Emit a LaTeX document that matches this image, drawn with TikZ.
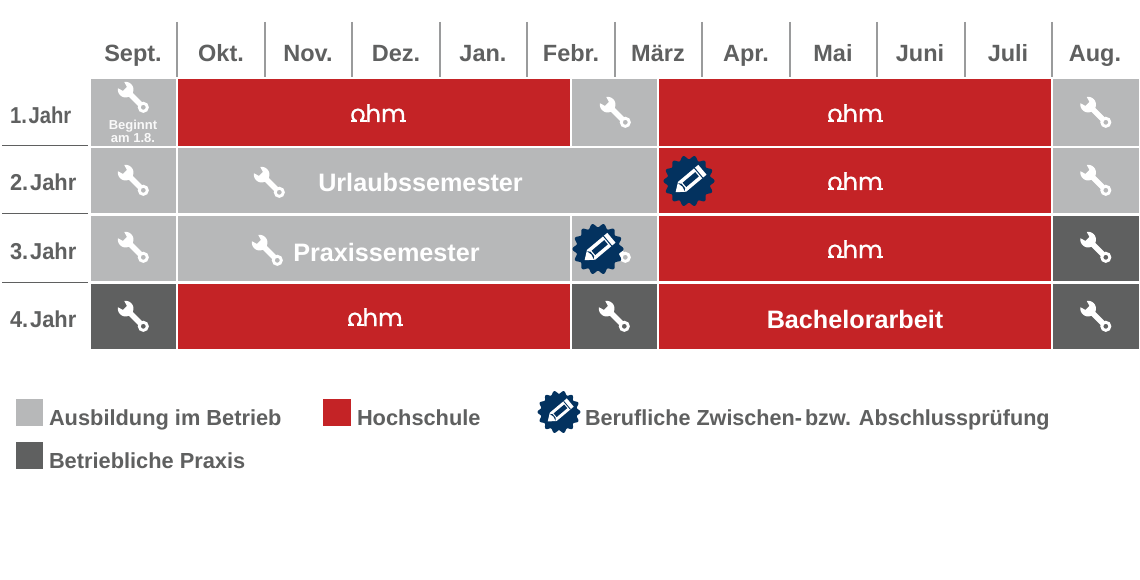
\documentclass[tikz,border=0pt]{standalone}
\usepackage{fontspec}
\setmainfont{Liberation Sans}
\newfontfamily\ohmfont[FakeBold=0.6]{Poppins}
\definecolor{lgrey}{HTML}{B7B8B9}
\definecolor{dgrey}{HTML}{5F6060}
\definecolor{ored}{HTML}{C42326}
\definecolor{navy}{HTML}{03325F}
\definecolor{vline}{HTML}{9A9B9C}
\newcommand{\fsz}[1]{\fontsize{#1}{#1}\selectfont}
\tikzset{
  x=1pt,y=-1pt,
  every node/.style={inner sep=0pt,outer sep=0pt},
  month/.style={anchor=base,text=dgrey,font=\bfseries\fsz{23.5}},
  yearlabel/.style={anchor=base west,text=dgrey,font=\bfseries\fsz{23}},
  inlabel/.style={anchor=base,text=white,font=\bfseries\fsz{25.2}},
  smalllabel/.style={anchor=base,text=white!92!lgrey,font=\bfseries\fsz{13}},
  legendlabel/.style={anchor=base west,text=dgrey,font=\bfseries\fsz{21.8}},
  ohmlabel/.style={anchor=base,text=white,font=\ohmfont\fsz{24}},
  wrench/.pic={
    \begin{scope}[rotate=-45]
      \fill[white] plot[domain=145:-145,samples=31,variable=\t] ({-9+7.8*cos(\t)},{7.8*sin(\t)}) -- (-10,-2.8) -- (-10,2.8) -- cycle;
      \fill[white] (-6,-2.8) rectangle (12,2.8);
      \fill[white,even odd rule] (16,0) circle[radius=5.6] (16,0) circle[radius=2.5];
    \end{scope}
  },
  badge/.pic={
    \fill[navy] plot[domain=0:360,samples=169,variable=\t] (\t:{23.6+1.9*cos(14*\t)}) -- cycle;
    \begin{scope}[rotate=40]
      \fill[white] (-17.5,0) -- (-9,-6.4) -- (17.5,-6.4) -- (17.5,6.4) -- (-9,6.4) -- cycle;
      \fill[navy] (-6,-2.8) rectangle (10.5,2.8);
      \fill[navy] (12,-6.4) rectangle (13,6.4);
      \fill[navy] (-9.8,-5.2) -- (-7.5,-2.8) -- (-7.5,2.8) -- (-9.8,5.2) -- (-8.6,0) -- cycle;
    \end{scope}
  },
  ohmfeet/.pic={
    \fill[ored] (-21.3,-3) rectangle (-18,1);
    \fill[white] (-27.5,-1.9) rectangle (-21.3,0);
    \fill[white] (-18,-1.9) rectangle (-11.5,0);
    \fill[white] (22,-1.9) rectangle (27.5,0);
  }
}
\begin{document}
\begin{tikzpicture}
\useasboundingbox (0,0) rectangle (1140,580);
\fill[white] (0,0) rectangle (1140,580);

% month separators
\foreach \mx in {177,265,352,440,527,615,702,790,877,965,1052}
  \draw[vline,line width=1.1] (\mx,22) -- (\mx,77);
% month names
\node[month] (m1) at (133,62) {Sept.};
\node[month] (m2) at (221,62) {Okt.};
\node[month] (m3) at (308,62) {Nov.};
\node[month] (m4) at (396,62) {Dez.};
\node[month] (m5) at (483,62) {Jan.};
\node[month] (m6) at (571,62) {Febr.};
\node[month] (m7) at (658,62) {März};
\node[month] (m8) at (746,62) {Apr.};
\node[month] (m9) at (833,62) {Mai};
\node[month] (m10) at (920,62) {Juni};
\node[month] (m11) at (1008,62) {Juli};
\node[month] (m12) at (1095,62) {Aug.};

% year labels
\node[yearlabel] (y1) at (10,124) {\scalebox{0.88}[1]{1.\kern2pt Jahr}};
\node[yearlabel] (y2) at (10,191) {\scalebox{0.95}[1]{2.\kern2pt Jahr}};
\node[yearlabel] (y3) at (10,259) {\scalebox{0.95}[1]{3.\kern2pt Jahr}};
\node[yearlabel] (y4) at (10,327) {\scalebox{0.95}[1]{4.\kern2pt Jahr}};
\foreach \ly in {146,214,282}
  \draw[dgrey,line width=1] (2,\ly) -- (88,\ly);

% row 1
\fill[lgrey] (91,79) rectangle (176,146);
\fill[ored] (178,79) rectangle (570,146);
\fill[lgrey] (572,79) rectangle (657,146);
\fill[ored] (659,79) rectangle (1051,146);
\fill[lgrey] (1053,79) rectangle (1139,146);
% row 2
\fill[lgrey] (91,148) rectangle (176,213);
\fill[lgrey] (178,148) rectangle (657,213);
\fill[ored] (659,148) rectangle (1051,213);
\fill[lgrey] (1053,148) rectangle (1139,213);
% row 3
\fill[lgrey] (91,216) rectangle (176,281);
\fill[lgrey] (178,216) rectangle (570,281);
\fill[lgrey] (572,216) rectangle (657,281);
\fill[ored] (659,216) rectangle (1051,281);
\fill[dgrey] (1053,216) rectangle (1139,281);
% row 4
\fill[dgrey] (91,284) rectangle (176,349);
\fill[ored] (178,284) rectangle (570,349);
\fill[dgrey] (572,284) rectangle (657,349);
\fill[ored] (659,284) rectangle (1051,349);
\fill[dgrey] (1053,284) rectangle (1139,349);

% wrenches
\foreach \wx/\wy in {132/96,614/111,1094.5/111,132/179,268/181,1094.5/179,132/246,266/249,614/246,1094.5/246,132/315,613/315,1094.5/315}
  \pic at (\wx,\wy) {wrench};

% cell texts
\node[smalllabel] (bg1) at (133,130) {Beginnt};
\node[smalllabel] (bg2) at (133,143) {am 1.8.};
\node[inlabel] (urlaub) at (420.5,192) {Urlaubssemester};
\node[inlabel] (praxis) at (386.5,261) {Praxissemester};
\node[inlabel] (bach) at (855,328) {Bachelorarbeit};

% ohm logos
\foreach \ox/\oy/\oname in {378/122/o1,855/122/o2,855/190/o3,855/258/o4,375/326/o5}{
  \node[ohmlabel] (\oname) at (\ox,\oy) {ohm};
  \pic at (\ox,\oy) {ohmfeet};
}

% badges
\pic at (689,181) {badge};
\pic at (598,249) {badge};

% legend
\fill[lgrey] (16,399) rectangle (43,426);
\fill[ored] (323,399) rectangle (351,426);
\fill[dgrey] (16,442) rectangle (43,469);
\pic[scale=0.84] at (559,412) {badge};
\node[legendlabel] (l1) at (49,425) {Ausbildung im Betrieb};
\node[legendlabel] (l2) at (357,425) {Hochschule};
\node[legendlabel] (l3) at (585,425) {\scalebox{0.99}[1]{Berufliche Zwischen-\kern3pt bzw. Abschlussprüfung}};
\node[legendlabel] (l4) at (49,468) {Betriebliche Praxis};
\end{tikzpicture}
\end{document}
